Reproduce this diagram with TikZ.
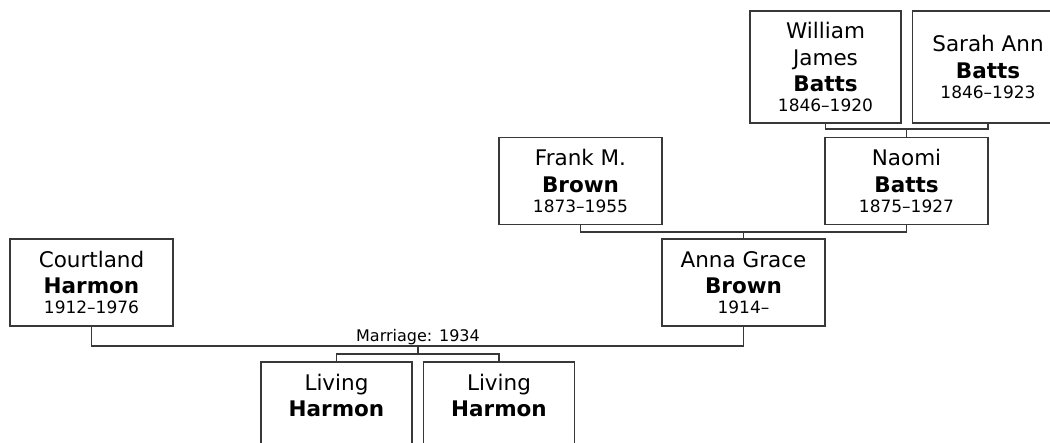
\documentclass[tikz,border=0pt]{standalone}
\usepackage{fontspec}
\setmainfont{DejaVu Sans}
\newcommand{\namesize}{\fontsize{21.5}{26.5}\selectfont}
\newcommand{\datesize}{\fontsize{17}{20}\selectfont}
\newcommand{\person}[3]{#1\\\textbf{#2}\\[-6.5pt]{\datesize #3}}
\tikzset{
  person/.style={draw=black!78,line width=1.2pt,minimum width=163pt,minimum height=87pt,inner sep=0pt,align=center,font=\namesize},
  narrow/.style={minimum width=151pt},
  tall/.style={minimum height=112pt},
  link/.style={draw=black!78,line width=1.2pt}
}
\begin{document}
\begin{tikzpicture}[x=1pt,y=-1pt,line cap=rect,line join=miter]
  \useasboundingbox (0,0) rectangle (1050,442);
  \clip (0,0) rectangle (1050,442);
  \node[person,narrow,tall] (william) at (825.5,67) {\person{William\\James}{Batts}{1846–1920}};
  \node[person,narrow,tall] (sarah) at (988,67) {\person{Sarah Ann}{Batts}{1846–1923}};
  \node[person] (frank) at (580.5,181) {\person{Frank M.}{Brown}{1873–1955}};
  \node[person] (naomi) at (906.5,181) {\person{Naomi}{Batts}{1875–1927}};
  \node[person] (court) at (91.5,282.5) {\person{Courtland}{Harmon}{1912–1976}};
  \node[person] (anna) at (743.5,282.5) {\person{Anna Grace}{Brown}{1914–}};
  \node[person,narrow] (liv1) at (336.5,405.5) {\person{Living}{Harmon}{}};
  \node[person,narrow] (liv2) at (499,405.5) {\person{Living}{Harmon}{}};
  \coordinate (batts) at (906.5,129);
  \coordinate (brown) at (743.5,232);
  \coordinate (marr) at (418,346);
  \coordinate (kids) at (418,354);
  \node[above=0pt,inner sep=1pt,font=\fontsize{16}{19}\selectfont] (mlabel) at (marr) {Marriage: 1934};
  \draw[link] (william.south) |- (batts) -| (sarah.south);
  \draw[link] (batts) -- (naomi.north);
  \draw[link] (frank.south) |- (brown) -| (naomi.south);
  \draw[link] (brown) -- (anna.north);
  \draw[link] (court.south) |- (marr) -| (anna.south);
  \draw[link] (marr) -- (kids);
  \draw[link] (liv1.north) |- (kids) -| (liv2.north);
\end{tikzpicture}
\end{document}
